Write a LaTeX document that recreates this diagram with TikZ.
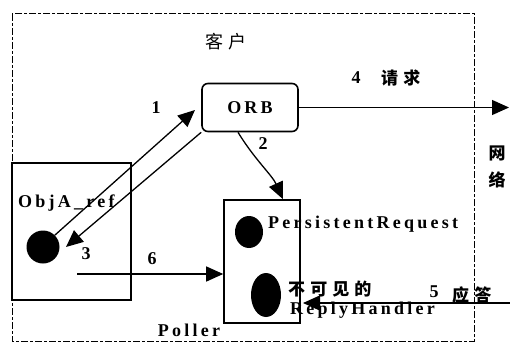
\documentclass[tikz,border=0pt]{standalone}
\usepackage{fontspec}
\usetikzlibrary{arrows.meta,shapes.geometric}
\setmainfont{Liberation Serif}
\newfontfamily\lat{Liberation Serif}[LetterSpace=18]
\newfontfamily\cjk{Noto Sans CJK SC}[LetterSpace=30]
\begin{document}
\begin{tikzpicture}[x=1pt,y=-1pt,
  box/.style={draw,line width=1.6pt,inner sep=0pt},
  blob/.style={fill=black,inner sep=0pt},
  conn/.style={line width=1.3pt,-{Triangle[length=17pt,width=15pt]}},
  lbl/.style={inner sep=0pt,font=\lat\bfseries\fontsize{18}{20}\selectfont},
  num/.style={inner sep=0pt,font=\lat\bfseries\fontsize{18}{20}\selectfont},
  zh/.style={inner sep=0pt,font=\cjk\bfseries\fontsize{17}{19}\selectfont}]
\useasboundingbox (0,0) rectangle (510,342);
\draw[line width=1pt,dash pattern=on 7pt off 2pt on 3pt off 2pt] (12,14) rectangle (474,341);
% boxes
\node[box,rounded corners=6pt,minimum width=96pt,minimum height=48pt,font=\lat\bfseries\fontsize{18}{20}\selectfont] (orb) at (250,107.5) {ORB};
\node[box,minimum width=119pt,minimum height=137pt] (obj) at (71.5,231.5) {};
\node[box,minimum width=76pt,minimum height=123pt] (poller) at (262,261.5) {};
\node[blob,circle,minimum size=33pt] (dA) at (43,247) {};
\node[blob,ellipse,minimum width=28pt,minimum height=32pt] (dP1) at (249,232) {};
\node[blob,ellipse,minimum width=30pt,minimum height=44pt] (dP2) at (266,295) {};
% texts
\node[zh,font=\cjk\fontsize{18}{20}\selectfont] (client) at (226,42) {客户};
\node[lbl,anchor=base west] (objt) at (18,207) {ObjA\_ref};
\node[lbl,anchor=base west] (pr) at (268,228) {PersistentRequest};
\node[zh,anchor=base west] (inv) at (288,295) {不可见的};
\node[lbl,anchor=base west] (rh) at (290,314) {ReplyHandler};
\node[lbl,anchor=base] (pt) at (189,336) {Poller};
\node[zh] (net1) at (497,153) {网};
\node[zh] (net2) at (497,180) {络};
\node[num] (n1) at (156,108) {1};
\node[num] (n2) at (263,144) {2};
\node[num] (n3) at (86,254) {3};
\node[num] (n6) at (152,259) {6};
\node[num] (n4) at (356,78) {4};
\node[zh,anchor=west] (req) at (381,78) {请求};
\node[num] (n5) at (434,292) {5};
\node[zh,anchor=west] (resp) at (452,295) {应答};
% connectors
\coordinate (t1) at (195,110);
\coordinate (t3) at (66,247);
\coordinate (s2) at ([xshift=-12pt]orb.south);
\coordinate (t2) at ([xshift=21pt]poller.north);
\coordinate (t4) at (509,107.5);
\coordinate (s5) at (510,303);
\coordinate (t5) at (303,303);
\coordinate (s6) at (77,274);
\draw[conn] (dA.north east) -- (t1);
\draw[conn] (orb.south west) -- (t3);
\draw[conn] (s2) .. controls (255,160) and (272,175) .. (t2);
\draw[conn] (orb.east) -- (t4);
\draw[conn] (s5) -- (t5);
\draw[conn] (s6) -- (s6 -| poller.west);
\end{tikzpicture}
\end{document}
